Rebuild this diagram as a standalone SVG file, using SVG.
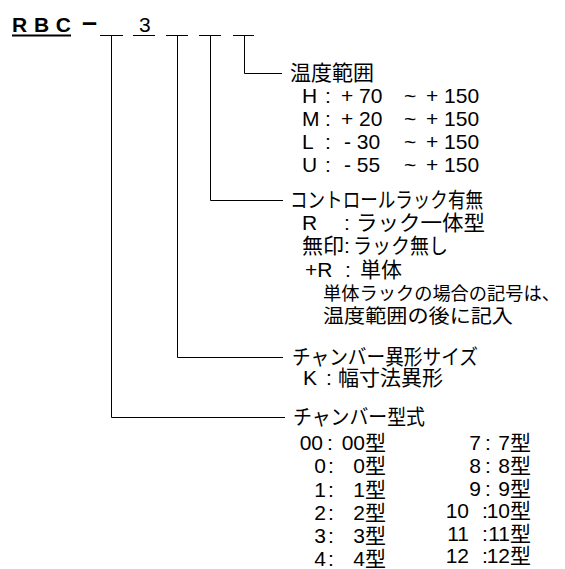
<svg xmlns="http://www.w3.org/2000/svg" width="565" height="569" viewBox="0 0 565 569">
<style>
.t{font-family:"Liberation Sans","Noto Sans CJK JP",sans-serif;font-size:21px;fill:#000}
.e{text-anchor:end}
.b{font-weight:bold}
.ln{stroke:#000;stroke-width:1;fill:none}
</style>
<rect width="565" height="569" fill="#fff"/>
<g id="code">
<text class="t b" x="12" y="32" textLength="59" lengthAdjust="spacing">RBC</text>
<line x1="12" y1="35.5" x2="71" y2="35.5" stroke="#000" stroke-width="2"/>
<text class="t b" x="82" y="31" style="font-size:27px">–</text>
<text class="t" x="139" y="32">3</text>
<path class="ln" d="M100,35.5H123M133,35.5H155M166,35.5H188M199,35.5H221M233,35.5H254"/>
</g>
<g id="connectors">
<path class="ln" d="M244.5,35.5V73.5H282"/>
<path class="ln" d="M210.5,35.5V200.5H283"/>
<path class="ln" d="M177.5,35.5V357.5H283"/>
<path class="ln" d="M111.5,35.5V417.5H285"/>
</g>
<g id="temp-range">
<text class="t" x="290" y="80">温度範囲</text>
<text class="t" x="302" y="103">H</text><text class="t" x="325" y="103">:</text><text class="t" x="341" y="103">+ 70</text><text class="t" x="404" y="103">~</text><text class="t" x="426" y="103">+ 150</text>
<text class="t" x="302" y="126">M</text><text class="t" x="325" y="126">:</text><text class="t" x="341" y="126">+ 20</text><text class="t" x="404" y="126">~</text><text class="t" x="426" y="126">+ 150</text>
<text class="t" x="302" y="149">L</text><text class="t" x="325" y="149">:</text><text class="t" x="344" y="149">- 30</text><text class="t" x="404" y="149">~</text><text class="t" x="426" y="149">+ 150</text>
<text class="t" x="302" y="172">U</text><text class="t" x="325" y="172">:</text><text class="t" x="344" y="172">- 55</text><text class="t" x="404" y="172">~</text><text class="t" x="426" y="172">+ 150</text>
</g>
<g id="control-rack">
<text class="t" x="290" y="207" textLength="193" lengthAdjust="spacingAndGlyphs">コントロールラック有無</text>
<text class="t" x="302" y="230">R</text><text class="t" x="344" y="230">:</text><text class="t" x="356" y="230" textLength="129" lengthAdjust="spacingAndGlyphs">ラック一体型</text>
<text class="t" x="302" y="253">無印</text><text class="t" x="344" y="253">:</text><text class="t" x="353" y="253" textLength="95" lengthAdjust="spacingAndGlyphs">ラック無し</text>
<text class="t" x="305" y="277">+R</text><text class="t" x="345" y="277">:</text><text class="t" x="360" y="277">単体</text>
<text class="t" x="323" y="300" style="font-size:18.5px" textLength="237" lengthAdjust="spacingAndGlyphs">単体ラックの場合の記号は、</text>
<text class="t" x="323" y="323" style="font-size:19.5px" textLength="190" lengthAdjust="spacingAndGlyphs">温度範囲の後に記入</text>
</g>
<g id="chamber-variant">
<text class="t" x="292" y="364" textLength="186" lengthAdjust="spacingAndGlyphs">チャンバー異形サイズ</text>
<text class="t" x="303" y="385">K</text><text class="t" x="326" y="385">:</text><text class="t" x="338" y="385">幅寸法異形</text>
</g>
<g id="chamber-type">
<text class="t" x="293" y="424" textLength="132" lengthAdjust="spacingAndGlyphs">チャンバー型式</text>
<text class="t e" x="323" y="450">00</text><text class="t" x="327" y="450">:</text><text class="t e" x="386" y="450">00型</text>
<text class="t e" x="326" y="473">0</text><text class="t" x="328" y="473">:</text><text class="t e" x="386" y="473">0型</text>
<text class="t e" x="326" y="497">1</text><text class="t" x="328" y="497">:</text><text class="t e" x="386" y="497">1型</text>
<text class="t e" x="326" y="520">2</text><text class="t" x="328" y="520">:</text><text class="t e" x="386" y="520">2型</text>
<text class="t e" x="326" y="543">3</text><text class="t" x="328" y="543">:</text><text class="t e" x="386" y="543">3型</text>
<text class="t e" x="326" y="566">4</text><text class="t" x="328" y="566">:</text><text class="t e" x="386" y="566">4型</text>
<text class="t e" x="481" y="450">7</text><text class="t" x="485" y="450">:</text><text class="t e" x="531" y="450">7型</text>
<text class="t e" x="481" y="473">8</text><text class="t" x="485" y="473">:</text><text class="t e" x="531" y="473">8型</text>
<text class="t e" x="481" y="496">9</text><text class="t" x="485" y="496">:</text><text class="t e" x="531" y="496">9型</text>
<text class="t e" x="469" y="518">10</text><text class="t" x="482" y="518">:</text><text class="t e" x="531" y="518">10型</text>
<text class="t e" x="469" y="541">11</text><text class="t" x="482" y="541">:</text><text class="t e" x="531" y="541">11型</text>
<text class="t e" x="469" y="563">12</text><text class="t" x="482" y="563">:</text><text class="t e" x="531" y="563">12型</text>
</g>
</svg>
